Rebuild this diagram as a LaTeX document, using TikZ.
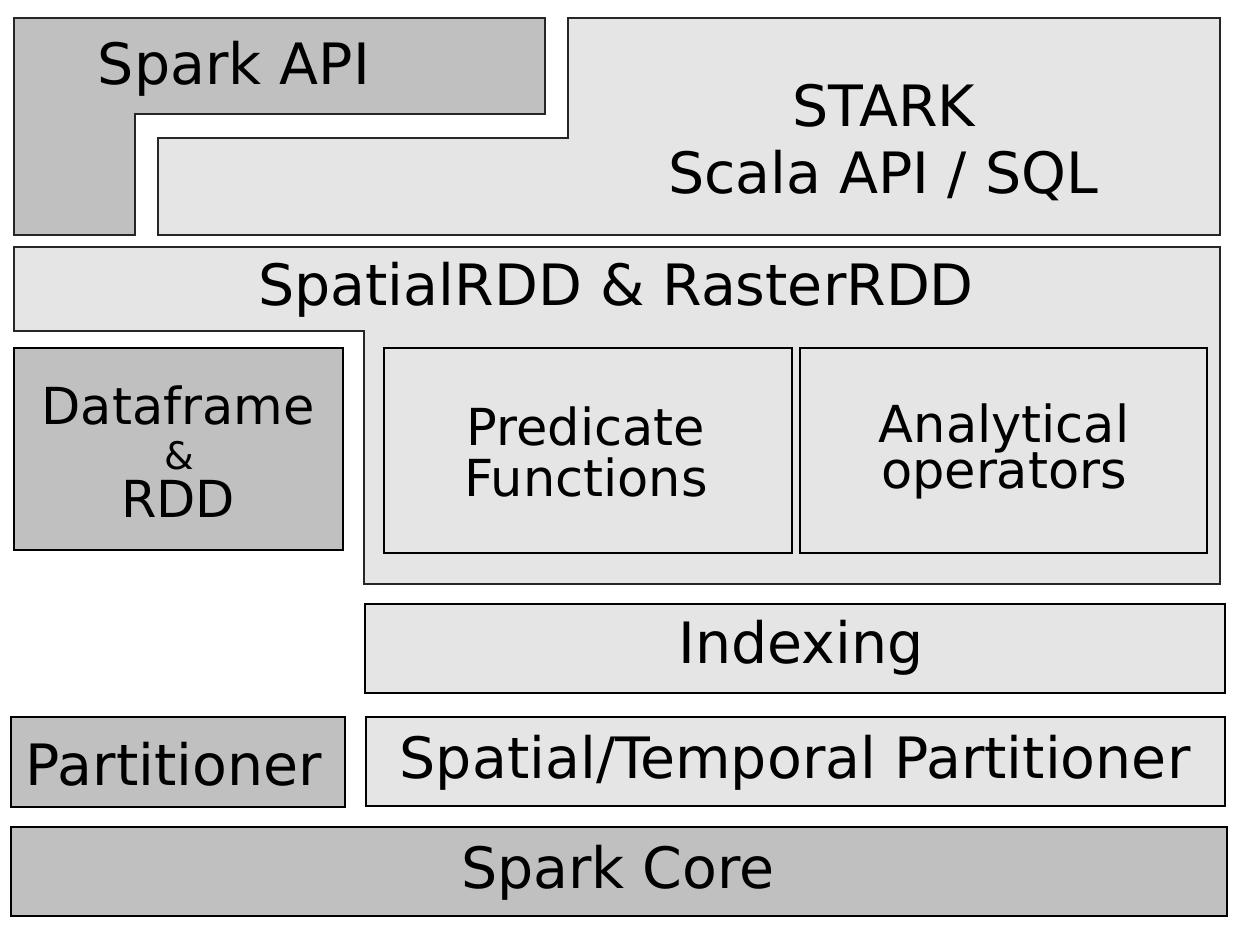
\documentclass[tikz,border=0pt]{standalone}
\usepackage{fontspec}
\setmainfont{DejaVu Sans}
\definecolor{sparkgray}{HTML}{C0C0C0}
\definecolor{starkgray}{HTML}{E5E5E5}
\tikzset{
  sparkpart/.style={draw=black!85, line width=1pt, fill=sparkgray},
  starkpart/.style={draw=black!85, line width=1pt, fill=starkgray},
  sparkbox/.style={draw=black, line width=1.3pt, fill=sparkgray},
  starkbox/.style={draw=black, line width=1.3pt, fill=starkgray},
  biglabel/.style={anchor=base, inner sep=0pt, font=\fontsize{28.5}{30}\selectfont},
  midlabel/.style={anchor=base, inner sep=0pt, font=\fontsize{25.5}{27}\selectfont},
  amplabel/.style={anchor=base, inner sep=0pt, font=\fontsize{19}{20}\selectfont}
}

\begin{document}
\begin{tikzpicture}[x=0.5pt, y=-0.5pt]
\useasboundingbox (0,0) rectangle (1236,930);
% top row
\draw[sparkpart] (14,18) -- (545,18) -- (545,114) -- (135,114) -- (135,235) -- (14,235) -- cycle;
\draw[starkpart] (568,18) -- (1220,18) -- (1220,235) -- (158,235) -- (158,138) -- (568,138) -- cycle;
\node[biglabel] (sparkapi) at (234,85) {Spark API};
\node[biglabel] (stark) at (884,127) {STARK};
\node[biglabel] (scalaapi) at (883,194) {Scala API / SQL};
% rdd layer
\draw[starkpart] (14,247) -- (1220,247) -- (1220,584) -- (364,584) -- (364,331) -- (14,331) -- cycle;
\node[biglabel] (spatialrdd) at (616,306) {SpatialRDD \& RasterRDD};
\draw[sparkbox] (14,348) rectangle (343,550);
\node[midlabel] (dataframe) at (178,424) {Dataframe};
\node[amplabel] (amp) at (179,469) {\&};
\node[midlabel] (rdd) at (178,517) {RDD};
\draw[starkbox] (384,348) rectangle (792,553);
\node[midlabel] (predicate) at (586,445) {Predicate};
\node[midlabel] (functions) at (586,496) {Functions};
\draw[starkbox] (800,348) rectangle (1207,553);
\node[midlabel] (analytical) at (1004,442) {Analytical};
\node[midlabel] (operators) at (1004,488) {operators};
% lower layers
\draw[starkbox] (365,604) rectangle (1225,693);
\node[biglabel] (indexing) at (801,663) {Indexing};
\draw[sparkbox] (11,717) rectangle (345,807);
\node[biglabel] (partitioner) at (174,785) {Partitioner};
\draw[starkbox] (366,717) rectangle (1225,806);
\node[biglabel] (stpartitioner) at (795,778) {Spatial/Temporal Partitioner};
\draw[sparkbox] (11,827) rectangle (1227,916);
\node[biglabel] (sparkcore) at (618,888) {Spark Core};
\end{tikzpicture}
\end{document}
